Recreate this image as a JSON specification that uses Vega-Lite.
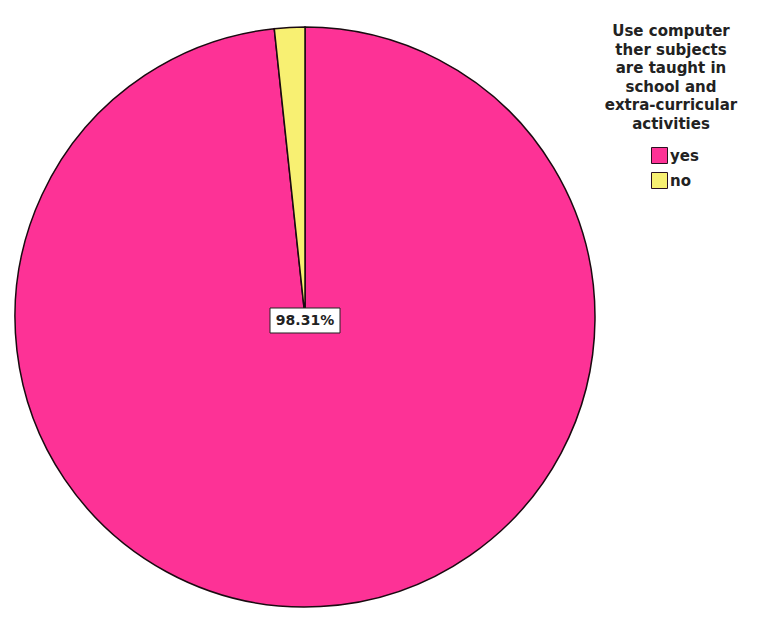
{
  "$schema": "https://vega.github.io/schema/vega-lite/v6.json",
  "width": 610,
  "height": 622,
  "padding": {"left": 0, "top": 6, "right": 0, "bottom": 0},
  "background": "white",
  "data": {"values": [
    {"answer": "yes", "percent": 98.31, "label": "98.31%"},
    {"answer": "no", "percent": 1.69, "label": "1.69%"}
  ]},
  "encoding": {
    "theta": {"field": "percent", "type": "quantitative", "stack": true},
    "order": {"field": "percent", "type": "quantitative", "sort": "descending"}
  },
  "layer": [
    {
      "mark": {"type": "arc", "outerRadius": 290, "stroke": "#1a0a10", "strokeWidth": 1.5},
      "encoding": {
        "color": {
          "field": "answer",
          "type": "nominal",
          "sort": ["yes", "no"],
          "scale": {"domain": ["yes", "no"], "range": ["#fd3296", "#f8f072"]},
          "legend": {
            "title": ["Use computer", "ther subjects", "are taught in", "school and", "extra-curricular", "activities"],
            "orient": "none",
            "legendX": 605,
            "legendY": 18,
            "titleAlign": "center",
            "titleAnchor": "middle",
            "titleFont": "DejaVu Sans",
            "titleFontSize": 15,
            "titleFontWeight": "bold",
            "titleColor": "#222",
            "titleLineHeight": 18.6,
            "titlePadding": 15,
            "symbolType": "square",
            "symbolSize": 256,
            "symbolStrokeColor": "#2a1020",
            "symbolStrokeWidth": 1,
            "symbolOpacity": 1,
            "symbolOffset": 8,
            "labelFont": "DejaVu Sans",
            "labelFontSize": 15,
            "labelFontWeight": "bold",
            "labelColor": "#222",
            "labelOffset": 2,
            "rowPadding": 4,
            "padding": 0
          }
        }
      }
    },
    {
      "transform": [{"filter": "datum.answer == 'yes'"}],
      "mark": {"type": "point", "shape": "M-1,-0.257L1,-0.257L1,0.457L-1,0.457Z", "size": 4900, "filled": true, "fill": "white", "stroke": "#222", "strokeWidth": 1, "opacity": 1},
      "encoding": {}
    },
    {
      "transform": [{"filter": "datum.answer == 'yes'"}],
      "mark": {"type": "text", "radius": 0, "font": "DejaVu Sans", "fontSize": 14, "fontWeight": "bold", "color": "#222", "dx": 0, "dy": 4, "align": "center", "baseline": "middle"},
      "encoding": {"text": {"field": "label"}}
    }
  ],
  "config": {"view": {"stroke": null}}
}
